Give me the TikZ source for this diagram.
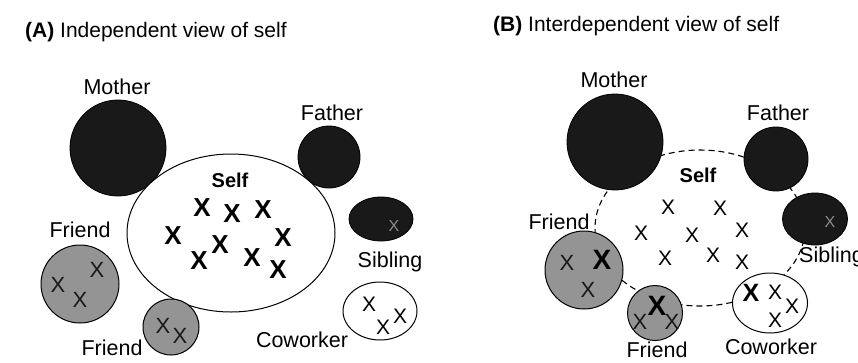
\documentclass[tikz,border=0pt]{standalone}
\usepackage{fontspec}
\setmainfont{Liberation Sans}
\usetikzlibrary{shapes.geometric}
\tikzset{
  lbl/.style={inner sep=0pt, font=\fontsize{21.5}{21.5}\selectfont},
  ttl/.style={inner sep=0pt, anchor=base west, font=\fontsize{21}{21}\selectfont},
  selflbl/.style={inner sep=0pt, font=\fontsize{20}{20}\selectfont\bfseries},
  dark/.style={circle, draw=black, line width=0.8pt, fill=black!90, inner sep=0pt},
  darkell/.style={ellipse, draw=black, line width=0.8pt, fill=black!90, inner sep=0pt},
  grey/.style={circle, draw=black, line width=1pt, fill=black!42, inner sep=0pt},
  whiteell/.style={ellipse, draw=black, line width=1pt, fill=white, inner sep=0pt},
  xbig/.style={inner sep=0pt, font=\fontsize{26}{26}\selectfont\bfseries},
  xthin/.style={inner sep=0pt, font=\fontsize{21}{21}\selectfont},
  xgrey/.style={inner sep=0pt, text=black!90, font=\fontsize{22}{22}\selectfont},
  xfaint/.style={inner sep=0pt, text=black!45, font=\fontsize{16}{16}\selectfont},
  xbold/.style={inner sep=0pt, font=\fontsize{25}{25}\selectfont\bfseries},
  boundary/.style={draw=black, line width=1.1pt, dash pattern=on 6pt off 4pt}
}
\begin{document}
\begin{tikzpicture}[x=1pt,y=-1pt]
\useasboundingbox (0,0) rectangle (858,362);
% ---------------- Panel A ----------------
\node[ttl] (titleA) at (25,37) {\textbf{(A)} Independent view of self};
\node[dark, minimum size=96pt] (motherA) at (118,148) {};
\node[lbl] (motherAl) at (117,87) {Mother};
\node[dark, minimum size=62pt] (fatherA) at (329,157) {};
\node[lbl] (fatherAl) at (332,113) {Father};
\node[ellipse, draw=black, line width=1pt, fill=white, inner sep=0pt,
      minimum width=208pt, minimum height=158pt] (selfA) at (231,233) {};
\node[selflbl] (selfAl) at (230,180) {Self};
\foreach \p [count=\i] in {(202,208),(232,214),(263,210),(173,236),(220,245),(283,238),(199,261),(252,258),(278,270)}
  \node[xbig] (xa\i) at \p {X};
\node[darkell, minimum width=64pt, minimum height=44pt] (siblingA) at (381,219) {};
\node[xfaint] (xsa) at (394,226) {X};
\node[lbl] (siblingAl) at (390,262) {Sibling};
\node[whiteell, minimum width=74pt, minimum height=58pt] (coworkerA) at (380,311) {};
\foreach \p [count=\i] in {(369,304),(400,316),(383,327)}
  \node[xthin] (xca\i) at \p {X};
\node[lbl] (coworkerAl) at (302,340) {Coworker};
\node[grey, minimum size=78pt] (friendA1) at (80,284) {};
\foreach \p [count=\i] in {(97,270),(58,285),(80,300)}
  \node[xgrey] (xfa\i) at \p {X};
\node[lbl] (friendA1l) at (80,230) {Friend};
\node[grey, minimum size=56pt] (friendA2) at (171,327) {};
\foreach \p [count=\i] in {(163,326),(180,336)}
  \node[xgrey] (xfb\i) at \p {X};
\node[lbl] (friendA2l) at (112,348) {Friend};
% ---------------- Panel B ----------------
\node[ttl] (titleB) at (493,31) {\textbf{(B)} Interdependent view of self};
\node[ellipse, boundary, inner sep=0pt, minimum width=210pt, minimum height=156pt] (selfB) at (700,228) {};
\node[dark, minimum size=96pt] (motherB) at (615,142) {};
\node[lbl] (motherBl) at (614,80) {Mother};
\node[dark, minimum size=64pt] (fatherB) at (776,159) {};
\node[lbl] (fatherBl) at (778,113) {Father};
\node[darkell, minimum width=65pt, minimum height=52pt] (siblingB) at (815,219) {};
\node[xfaint] (xsb) at (830,222) {X};
\node[lbl, anchor=west] (siblingBl) at (799,257) {Sibling};
\node[grey, minimum size=78pt] (friendB1) at (584,270) {};
\node[xgrey] (xfc1) at (567,263) {X};
\node[xgrey] (xfc2) at (588,290) {X};
\node[xbold, font=\fontsize{28}{28}\selectfont\bfseries] (xfc3) at (602,260) {X};
\node[lbl] (friendB1l) at (559,222) {Friend};
\node[grey, minimum size=55pt] (friendB2) at (655,313) {};
\node[xgrey] (xfd1) at (640,322) {X};
\node[xgrey] (xfd2) at (672,322) {X};
\node[xbold, font=\fontsize{28}{28}\selectfont\bfseries] (xfd3) at (657,306) {X};
\node[lbl] (friendB2l) at (657,350) {Friend};
\node[whiteell, minimum width=75pt, minimum height=60pt] (coworkerB) at (770,303) {};
\node[xbold] (xcb1) at (751,293) {X};
\foreach \p [count=\i] in {(775,292),(792,306),(775,320)}
  \node[xthin] (xcb\i b) at \p {X};
\node[lbl] (coworkerBl) at (771,347) {Coworker};
\node[selflbl] (selfBl) at (698,175) {Self};
\foreach \p [count=\i] in {(668,207),(720,208),(641,233),(692,235),(742,230),(665,258),(713,255),(742,262)}
  \node[xthin] (xb\i) at \p {X};
\end{tikzpicture}
\end{document}
